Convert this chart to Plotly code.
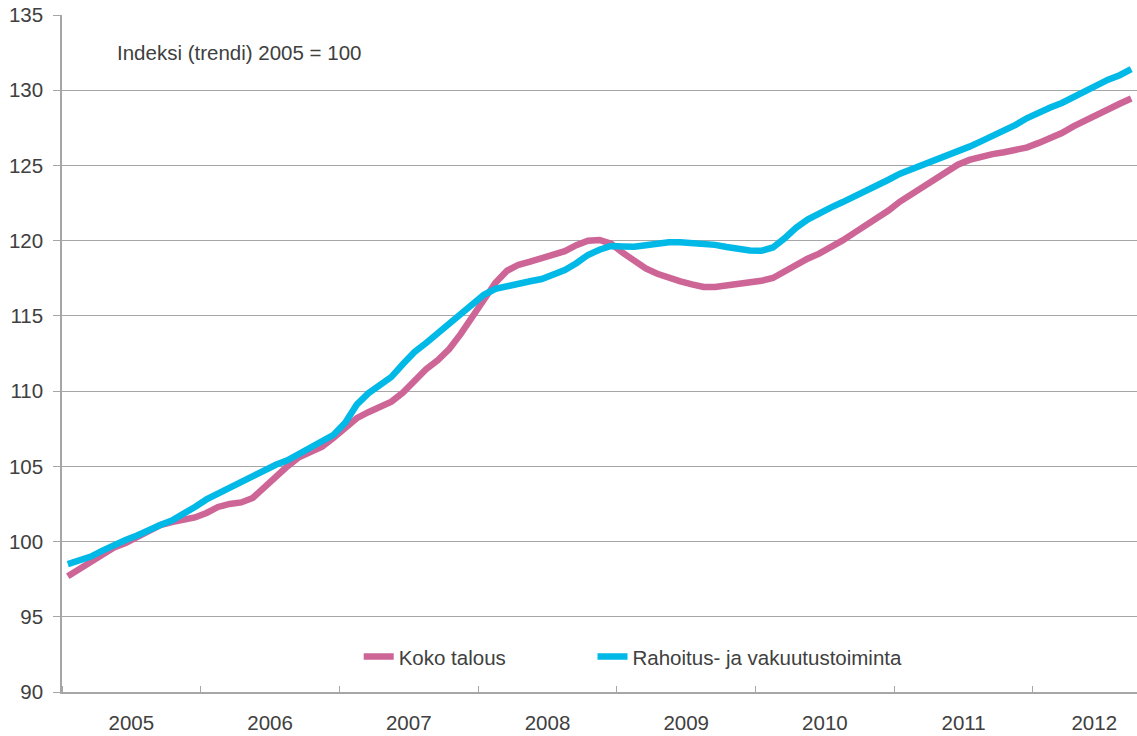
"""Palkkasummat: koko talous vs. rahoitus- ja vakuutustoiminta (trendi, 2005 = 100)."""

import plotly.graph_objects as go

TEXT = "#404040"
GRID = "#A6A6A6"
PINK = "#CD6597"
CYAN = "#00B9E7"
FONT = "Liberation Sans, Arial, sans-serif"
SIZE = 20.5

# Monthly index values, Jan 2005 - Sep 2012
KOKO_TALOUS = [
    97.7, 98.2, 98.7, 99.2, 99.6, 99.9, 100.3, 100.7, 101.1, 101.3, 101.4, 101.6,
    101.9, 102.3, 102.5, 102.6, 102.9, 103.6, 104.4, 105.0, 105.6, 106.0, 106.3, 106.9,
    107.6, 108.2, 108.6, 108.9, 109.3, 109.9, 110.7, 111.45, 112.05, 112.8, 113.8, 115.0,
    116.1, 117.2, 118.0, 118.4, 118.6, 118.8, 119.0, 119.3, 119.7, 120.0, 120.05, 119.8,
    119.2, 118.65, 118.15, 117.8, 117.5, 117.3, 117.1, 116.92, 116.92, 117.0, 117.15, 117.25,
    117.33, 117.52, 117.95, 118.45, 118.8, 119.14, 119.55, 120.0, 120.5, 121.0, 121.45, 122.0,
    122.6, 123.1, 123.6, 124.1, 124.6, 125.05, 125.37, 125.6, 125.75, 125.88, 126.0, 126.2,
    126.5, 126.8, 127.15, 127.6, 128.0, 128.4, 128.8, 129.1, 129.45,
]
RAHOITUS = [
    98.5, 98.7, 99.0, 99.4, 99.8, 100.1, 100.4, 100.8, 101.1, 101.4, 101.8, 102.3,
    102.8, 103.2, 103.6, 103.9, 104.3, 104.7, 105.1, 105.4, 105.8, 106.2, 106.6, 107.1,
    107.9, 109.1, 109.85, 110.4, 110.95, 111.8, 112.6, 113.2, 113.85, 114.45, 115.1, 115.85,
    116.4, 116.8, 117.0, 117.17, 117.3, 117.45, 117.7, 118.05, 118.5, 119.05, 119.4, 119.65,
    119.62, 119.6, 119.7, 119.82, 119.9, 119.9, 119.87, 119.83, 119.72, 119.58, 119.45, 119.35,
    119.33, 119.55, 120.15, 120.85, 121.4, 121.85, 122.2, 122.55, 122.9, 123.3, 123.7, 124.05,
    124.45, 124.75, 125.05, 125.3, 125.55, 125.9, 126.25, 126.6, 126.95, 127.3, 127.7, 128.15,
    128.55, 128.85, 129.15, 129.55, 129.95, 130.35, 130.7, 131.0, 131.4,
]
YEARS = ["2005", "2006", "2007", "2008", "2009", "2010", "2011", "2012"]

months = list(range(len(KOKO_TALOUS)))
n = len(months)

# year label sits in the middle of its twelve months (last year is partial)
year_pos = [12 * k + 5.5 for k in range(len(YEARS) - 1)] + [88.8]

fig = go.Figure()
fig.add_trace(go.Scatter(
    x=months, y=KOKO_TALOUS, mode="lines", name="Koko talous",
    line={"color": PINK, "width": 6.5}, legend="legend",
))
fig.add_trace(go.Scatter(
    x=months, y=RAHOITUS, mode="lines", name="Rahoitus- ja vakuutustoiminta",
    line={"color": CYAN, "width": 6.5}, legend="legend2",
))

fig.add_annotation(
    text="Indeksi (trendi) 2005 = 100",
    xref="paper", yref="paper", x=0.049, y=0.945,
    xanchor="left", yanchor="middle", showarrow=False,
    font={"size": SIZE, "color": TEXT},
)

legend_style = {
    "orientation": "h",
    "xanchor": "left", "yanchor": "middle",
    "bgcolor": "rgba(0,0,0,0)",
    "font": {"size": SIZE, "color": TEXT},
}

fig.update_layout(
    width=1137,
    height=736,
    margin={"l": 62, "r": 0, "t": 15, "b": 44},
    paper_bgcolor="white",
    plot_bgcolor="white",
    font={"family": FONT, "size": SIZE, "color": TEXT},
    showlegend=True,
    legend={**legend_style, "x": 0.276, "y": 0.052},
    legend2={**legend_style, "x": 0.4935, "y": 0.052},
)
fig.update_xaxes(
    range=[-0.5, n - 0.5],
    automargin=False,
    tickvals=year_pos,
    ticktext=YEARS,
    ticks="",
    ticklabelstandoff=12,
    showgrid=False,
    zeroline=False,
    showline=True,
    linecolor=GRID,
    linewidth=1.5,
    minor={"tickmode": "linear", "tick0": -0.5, "dtick": 12, "ticks": "inside",
           "ticklen": 6, "tickcolor": GRID, "showgrid": False},
)
fig.update_yaxes(
    range=[90, 135],
    automargin=False,
    ticklabeloverflow="allow",
    dtick=5,
    ticks="outside",
    ticklen=7,
    tickcolor=GRID,
    ticklabelstandoff=6,
    showgrid=True,
    gridcolor=GRID,
    gridwidth=1.2,
    zeroline=False,
    showline=True,
    linecolor=GRID,
    linewidth=1.5,
)

# drop the default body margin so the figure fills the window exactly
fig.write_html(
    "out.html",
    config={"displayModeBar": False},
    post_script="document.body.style.margin = '0';",
)
